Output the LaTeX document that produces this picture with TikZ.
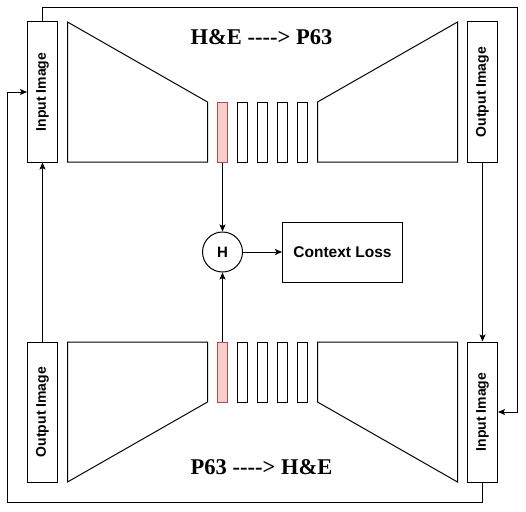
\documentclass[tikz,border=0pt]{standalone}
\usepackage{fontspec}
\setmainfont{Liberation Serif}
\newfontfamily\arialfont{Liberation Sans}
\usetikzlibrary{arrows.meta}
\begin{document}
\begin{tikzpicture}[x=1pt,y=-1pt,
  line width=1pt,
  imgbox/.style={draw, minimum width=30pt, minimum height=140pt, inner sep=0pt,
    font=\arialfont\bfseries\fontsize{14}{14}\selectfont},
  redbar/.style={draw=red!55!black!70, fill={rgb,255:red,248;green,206;blue,204}, minimum width=10.5pt, minimum height=60pt, inner sep=0pt},
  whitebar/.style={draw, minimum width=10.5pt, minimum height=60pt, inner sep=0pt},
  arr/.style={-{Stealth[length=7pt,width=6pt,inset=1.5pt]}},
  lbl/.style={font=\bfseries\fontsize{22.5}{24}\selectfont}
]
\useasboundingbox (0,0) rectangle (526,511);

% image boxes
\node[imgbox] (in1) at (42.5,92) {\rotatebox{90}{Input Image}};
\node[imgbox] (out1) at (482.5,92) {\rotatebox{90}{Output Image}};
\node[imgbox] (out2) at (42.5,412) {\rotatebox{90}{Output Image}};
\node[imgbox] (in2) at (482.5,412) {\rotatebox{90}{Input Image}};

% top trapezoids
\draw (67.5,22) -- (207.5,102) -- (207.5,162) -- (67.5,162) -- cycle;
\draw (457.5,22) -- (317.5,102) -- (317.5,162) -- (457.5,162) -- cycle;
% bottom trapezoids
\draw (67.5,342) -- (207.5,342) -- (207.5,402) -- (67.5,482) -- cycle;
\draw (457.5,342) -- (317.5,342) -- (317.5,402) -- (457.5,482) -- cycle;

% bars top
\node[redbar] (r1) at (222.5,132) {};
\node[whitebar] (w11) at (242.5,132) {};
\node[whitebar] (w12) at (262.5,132) {};
\node[whitebar] (w13) at (282.5,132) {};
\node[whitebar] (w14) at (302.5,132) {};
% bars bottom
\node[redbar] (r2) at (222.5,372) {};
\node[whitebar] (w21) at (242.5,372) {};
\node[whitebar] (w22) at (262.5,372) {};
\node[whitebar] (w23) at (282.5,372) {};
\node[whitebar] (w24) at (302.5,372) {};

% H and context loss
\node[draw, circle, minimum size=40pt, inner sep=0pt, font=\arialfont\bfseries\fontsize{15}{15}\selectfont] (h) at (222.5,252) {H};
\node[draw, minimum width=120pt, minimum height=60pt, inner sep=0pt, font=\arialfont\bfseries\fontsize{15.5}{15.5}\selectfont] (loss) at (342.5,252) {Context Loss};

% titles
\node[lbl] (t1) at (261.5,37) {H\&E -{}-{}-{}-{}> P63};
\node[lbl] (t2) at (261.5,467) {P63 -{}-{}-{}-{}> H\&E};

% connectors
\coordinate (tr) at (517.5,7.5);
\coordinate (bl) at (7.5,502.5);
\draw[arr] (in1.north) |- (tr) |- (in2.east);
\draw[arr] (in2.south) |- (bl) |- (in1.west);
\draw[arr] (out1.south) -- (in2.north);
\draw[arr] (out2.north) -- (in1.south);
\draw[arr] (r1.south) -- (h.north);
\draw[arr] (r2.north) -- (h.south);
\draw[arr] (h.east) -- (loss.west);
\end{tikzpicture}
\end{document}
